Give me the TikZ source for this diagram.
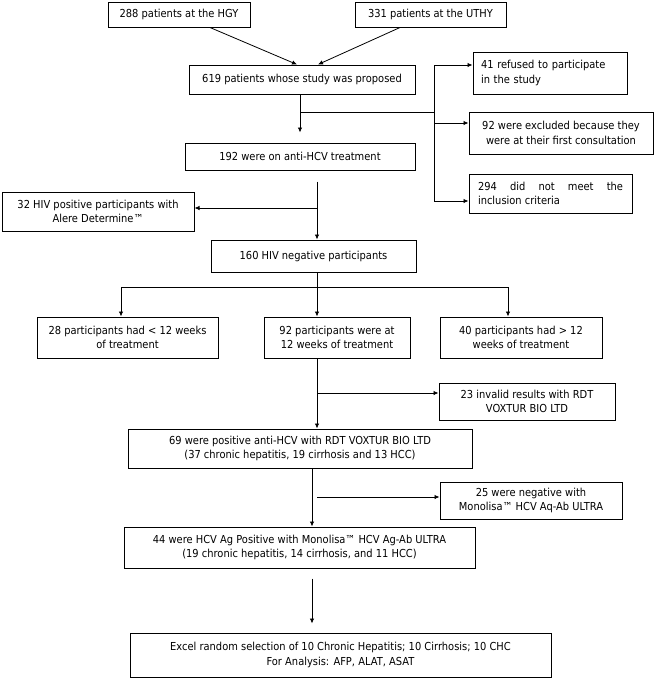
\documentclass[tikz,border=0pt]{standalone}
\usepackage{fontspec}
\setmainfont{DejaVu Sans}[FakeStretch=0.9]
\usetikzlibrary{arrows.meta,calc}
\newcommand\fsz{\fontsize{11}{14.5}\selectfont}
\begin{document}
\begin{tikzpicture}[x=1pt,y=-1pt,
  box/.style={draw,line width=1pt,inner sep=0pt,align=center,font=\fsz},
  arr/.style={line width=0.8pt,-{Latex[length=5pt,width=4.5pt]}},
  ln/.style={line width=0.8pt}]
\useasboundingbox (0,0) rectangle (656,681);
% boxes
\node[box,minimum width=142pt,minimum height=25pt] (b288) at (179,14.5) {288 patients at the HGY};
\node[box,minimum width=151pt,minimum height=25pt] (b331) at (430.5,14.5) {331 patients at the UTHY};
\node[box,minimum width=226pt,minimum height=29pt] (b619) at (302,79.5) {619 patients whose study was proposed};
\node[box,align=left,text width=138pt,inner xsep=8pt,minimum height=42pt] (b41) at (550,73) {41 refused to participate\\in the study};
\node[box,minimum width=184pt,minimum height=42pt] (b92x) at (561,133) {92 were excluded because they\\were at their first consultation};
\node[box,align=justify,text width=145pt,inner xsep=9pt,minimum height=39pt] (b294) at (550.5,193.5) {294 did not meet the\linebreak inclusion criteria};
\node[box,minimum width=230pt,minimum height=27pt] (b192) at (300,156.5) {192 were on anti-HCV treatment};
\node[box,minimum width=192pt,minimum height=39pt] (b32) at (98,211.5) {32 HIV positive participants with\\Alere Determine™};
\node[box,minimum width=205pt,minimum height=32pt] (b160) at (313.5,256) {160 HIV negative participants};
\node[box,minimum width=181pt,minimum height=41pt] (b28) at (127.5,337.5) {28 participants had < 12 weeks\\of treatment};
\node[box,minimum width=146pt,minimum height=41pt] (b92) at (337,337.5) {92 participants were at\\12 weeks of treatment};
\node[box,minimum width=162pt,minimum height=41pt] (b40) at (521,337.5) {40 participants had > 12\\weeks of treatment};
\node[box,minimum width=176pt,minimum height=37pt] (b23) at (527,401.5) {23 invalid results with RDT\\VOXTUR BIO LTD};
\node[box,minimum width=344pt,minimum height=39pt] (b69) at (300,448.5) {69 were positive anti-HCV with RDT VOXTUR BIO LTD\\(37 chronic hepatitis, 19 cirrhosis and 13 HCC)};
\node[box,minimum width=182pt,minimum height=37pt] (b25) at (531,500.5) {25 were negative with\\Monolisa™ HCV Aq-Ab ULTRA};
\node[box,minimum width=351pt,minimum height=41pt] (b44) at (299.5,547.5) {44 were HCV Ag Positive with Monolisa™ HCV Ag-Ab ULTRA\\(19 chronic hepatitis, 14 cirrhosis, and 11 HCC)};
\node[box,minimum width=421pt,minimum height=44pt] (bEx) at (340.5,655) {Excel random selection of 10 Chronic Hepatitis; 10 Cirrhosis; 10 CHC\\For Analysis: AFP, ALAT, ASAT};
% connectors
\draw[arr] ([xshift=31pt]b288.south) -- ([xshift=-5pt]b619.north);
\draw[arr] ([xshift=-30.5pt]b331.south) -- ([xshift=16pt]b619.north);
\draw[arr,shorten >=10pt] ([xshift=-2pt]b619.south) -- (b192.north);
\coordinate (j1) at (300,112);
\coordinate (r1) at (434,65);
\coordinate (r2) at (434,123);
\coordinate (r3) at (434,201);
\draw[ln] (j1) -- (j1 -| r1);
\draw[ln] (r1) -- (r3);
\draw[arr] (r1) -- (r1 -| b41.west);
\draw[arr] (r2) -- (r2 -| b92x.west);
\draw[arr] (r3) -- (r3 -| b294.west);
\coordinate (c2) at (317,181);
\coordinate (c2b) at (317,208);
\draw[arr,shorten <=11pt] (c2 |- b192.south) -- (c2 |- b160.north);
\draw[arr] (c2b) -- (c2b -| b32.east);
\coordinate (c3) at (317,287);
\coordinate (hl) at (121,287);
\coordinate (hr) at (508,287);
\draw[arr] (c3 |- b160.south) -- (c3 |- b92.north);
\draw[ln] (hl) -- (hr);
\draw[arr] (hl) -- (hl |- b28.north);
\draw[arr] (hr) -- (hr |- b40.north);
\coordinate (c4) at (317,393);
\draw[arr] (c4 |- b92.south) -- (c4 |- b69.north);
\draw[arr] (c4) -- (c4 -| b23.west);
\coordinate (c5) at (312,497);
\coordinate (c5b) at (317,497);
\draw[arr] (c5 |- b69.south) -- (c5 |- b44.north);
\draw[arr] (c5b) -- (c5b -| b25.west);
\coordinate (c6) at (312,600);
\draw[arr,shorten <=10pt,shorten >=9pt] (c6 |- b44.south) -- (c6 |- bEx.north);
\end{tikzpicture}
\end{document}
